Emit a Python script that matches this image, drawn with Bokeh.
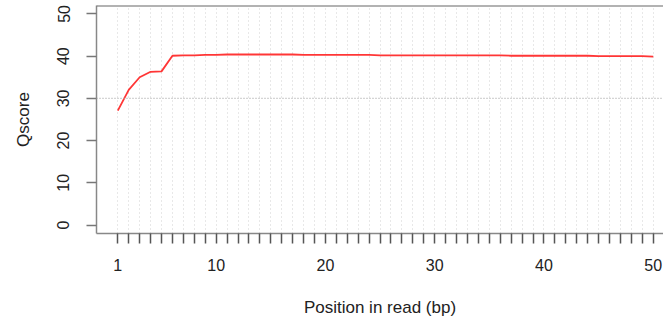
from bokeh.plotting import figure
from bokeh.models import FixedTicker, Span, Range1d, ColumnDataSource
from bokeh.embed import file_html
from bokeh.resources import INLINE

positions = [1, 2, 3, 4, 5, 6, 7, 8, 9, 10,
             11, 12, 13, 14, 15, 16, 17, 18, 19, 20,
             21, 22, 23, 24, 25, 26, 27, 28, 29, 30,
             31, 32, 33, 34, 35, 36, 37, 38, 39, 40,
             41, 42, 43, 44, 45, 46, 47, 48, 49, 50]
qscore = [27.1, 32.0, 35.0, 36.3, 36.4, 40.1, 40.2, 40.2, 40.3, 40.3,
          40.4, 40.4, 40.4, 40.4, 40.4, 40.4, 40.4, 40.3, 40.3, 40.3,
          40.3, 40.3, 40.3, 40.3, 40.2, 40.2, 40.2, 40.2, 40.2, 40.2,
          40.2, 40.2, 40.2, 40.2, 40.2, 40.2, 40.1, 40.1, 40.1, 40.1,
          40.1, 40.1, 40.1, 40.1, 40.0, 40.0, 40.0, 40.0, 40.0, 39.9]
x_labelled = [1, 10, 20, 30, 40, 50]
y_ticks = [0, 10, 20, 30, 40, 50]
ref_line = 30

FONT = "Liberation Sans"

p = figure(width=663, height=320, output_backend="svg", toolbar_location=None,
           x_range=Range1d(-0.95, 50.94), y_range=Range1d(-2, 52),
           min_border_left=96, min_border_right=0, min_border_top=5, min_border_bottom=87)
p.outline_line_color = None
p.background_fill_color = "white"
p.border_fill_color = "white"

src = ColumnDataSource(dict(x=positions, y=qscore))
p.line("x", "y", source=src, line_color="#ff2020", line_width=1.8, line_alpha=0.9)

# x axis
xa = p.xaxis[0]
xa.ticker = FixedTicker(ticks=positions)
xa.major_label_overrides = {v: ("" if v not in x_labelled else str(v)) for v in positions}
xa.minor_tick_line_color = None
xa.major_tick_in = 0
xa.major_tick_out = 10
xa.major_tick_line_color = "#555555"
xa.major_tick_line_width = 1.5
xa.axis_line_color = "#888888"
xa.axis_line_width = 1.5
xa.major_label_text_font = FONT
xa.major_label_text_font_size = "16px"
xa.major_label_text_color = "#222222"
xa.major_label_standoff = 15
xa.axis_label = "Position in read (bp)"
xa.axis_label_text_font = FONT
xa.axis_label_text_font_size = "17px"
xa.axis_label_text_font_style = "normal"
xa.axis_label_text_color = "#222222"
xa.axis_label_standoff = 24

# y axis
ya = p.yaxis[0]
ya.ticker = FixedTicker(ticks=y_ticks)
ya.minor_tick_line_color = None
ya.major_tick_in = 0
ya.major_tick_out = 10
ya.major_tick_line_color = "#777777"
ya.major_tick_line_width = 1.5
ya.axis_line_color = "#888888"
ya.axis_line_width = 1.5
ya.major_label_orientation = "vertical"
ya.major_label_text_font = FONT
ya.major_label_text_font_size = "16px"
ya.major_label_text_color = "#222222"
ya.major_label_standoff = 17
ya.axis_label = "Qscore"
ya.axis_label_text_font = FONT
ya.axis_label_text_font_size = "17px"
ya.axis_label_text_font_style = "normal"
ya.axis_label_text_color = "#222222"
ya.axis_label_standoff = 22

# grid: vertical dotted lines at each position
p.xgrid.ticker = FixedTicker(ticks=positions)
p.xgrid.grid_line_color = "#d0d0d0"
p.xgrid.grid_line_dash = "1 3"
p.xgrid.grid_line_width = 1
p.ygrid.grid_line_color = None

# reference line at 30
p.add_layout(Span(location=ref_line, dimension="width", line_color="#aaaaaa",
                  line_dash="1 2", line_width=1.2))
# top border
p.add_layout(Span(location=52, dimension="width", line_color="#666666", line_width=2))

open("out.html", "w").write(file_html(p, INLINE))
